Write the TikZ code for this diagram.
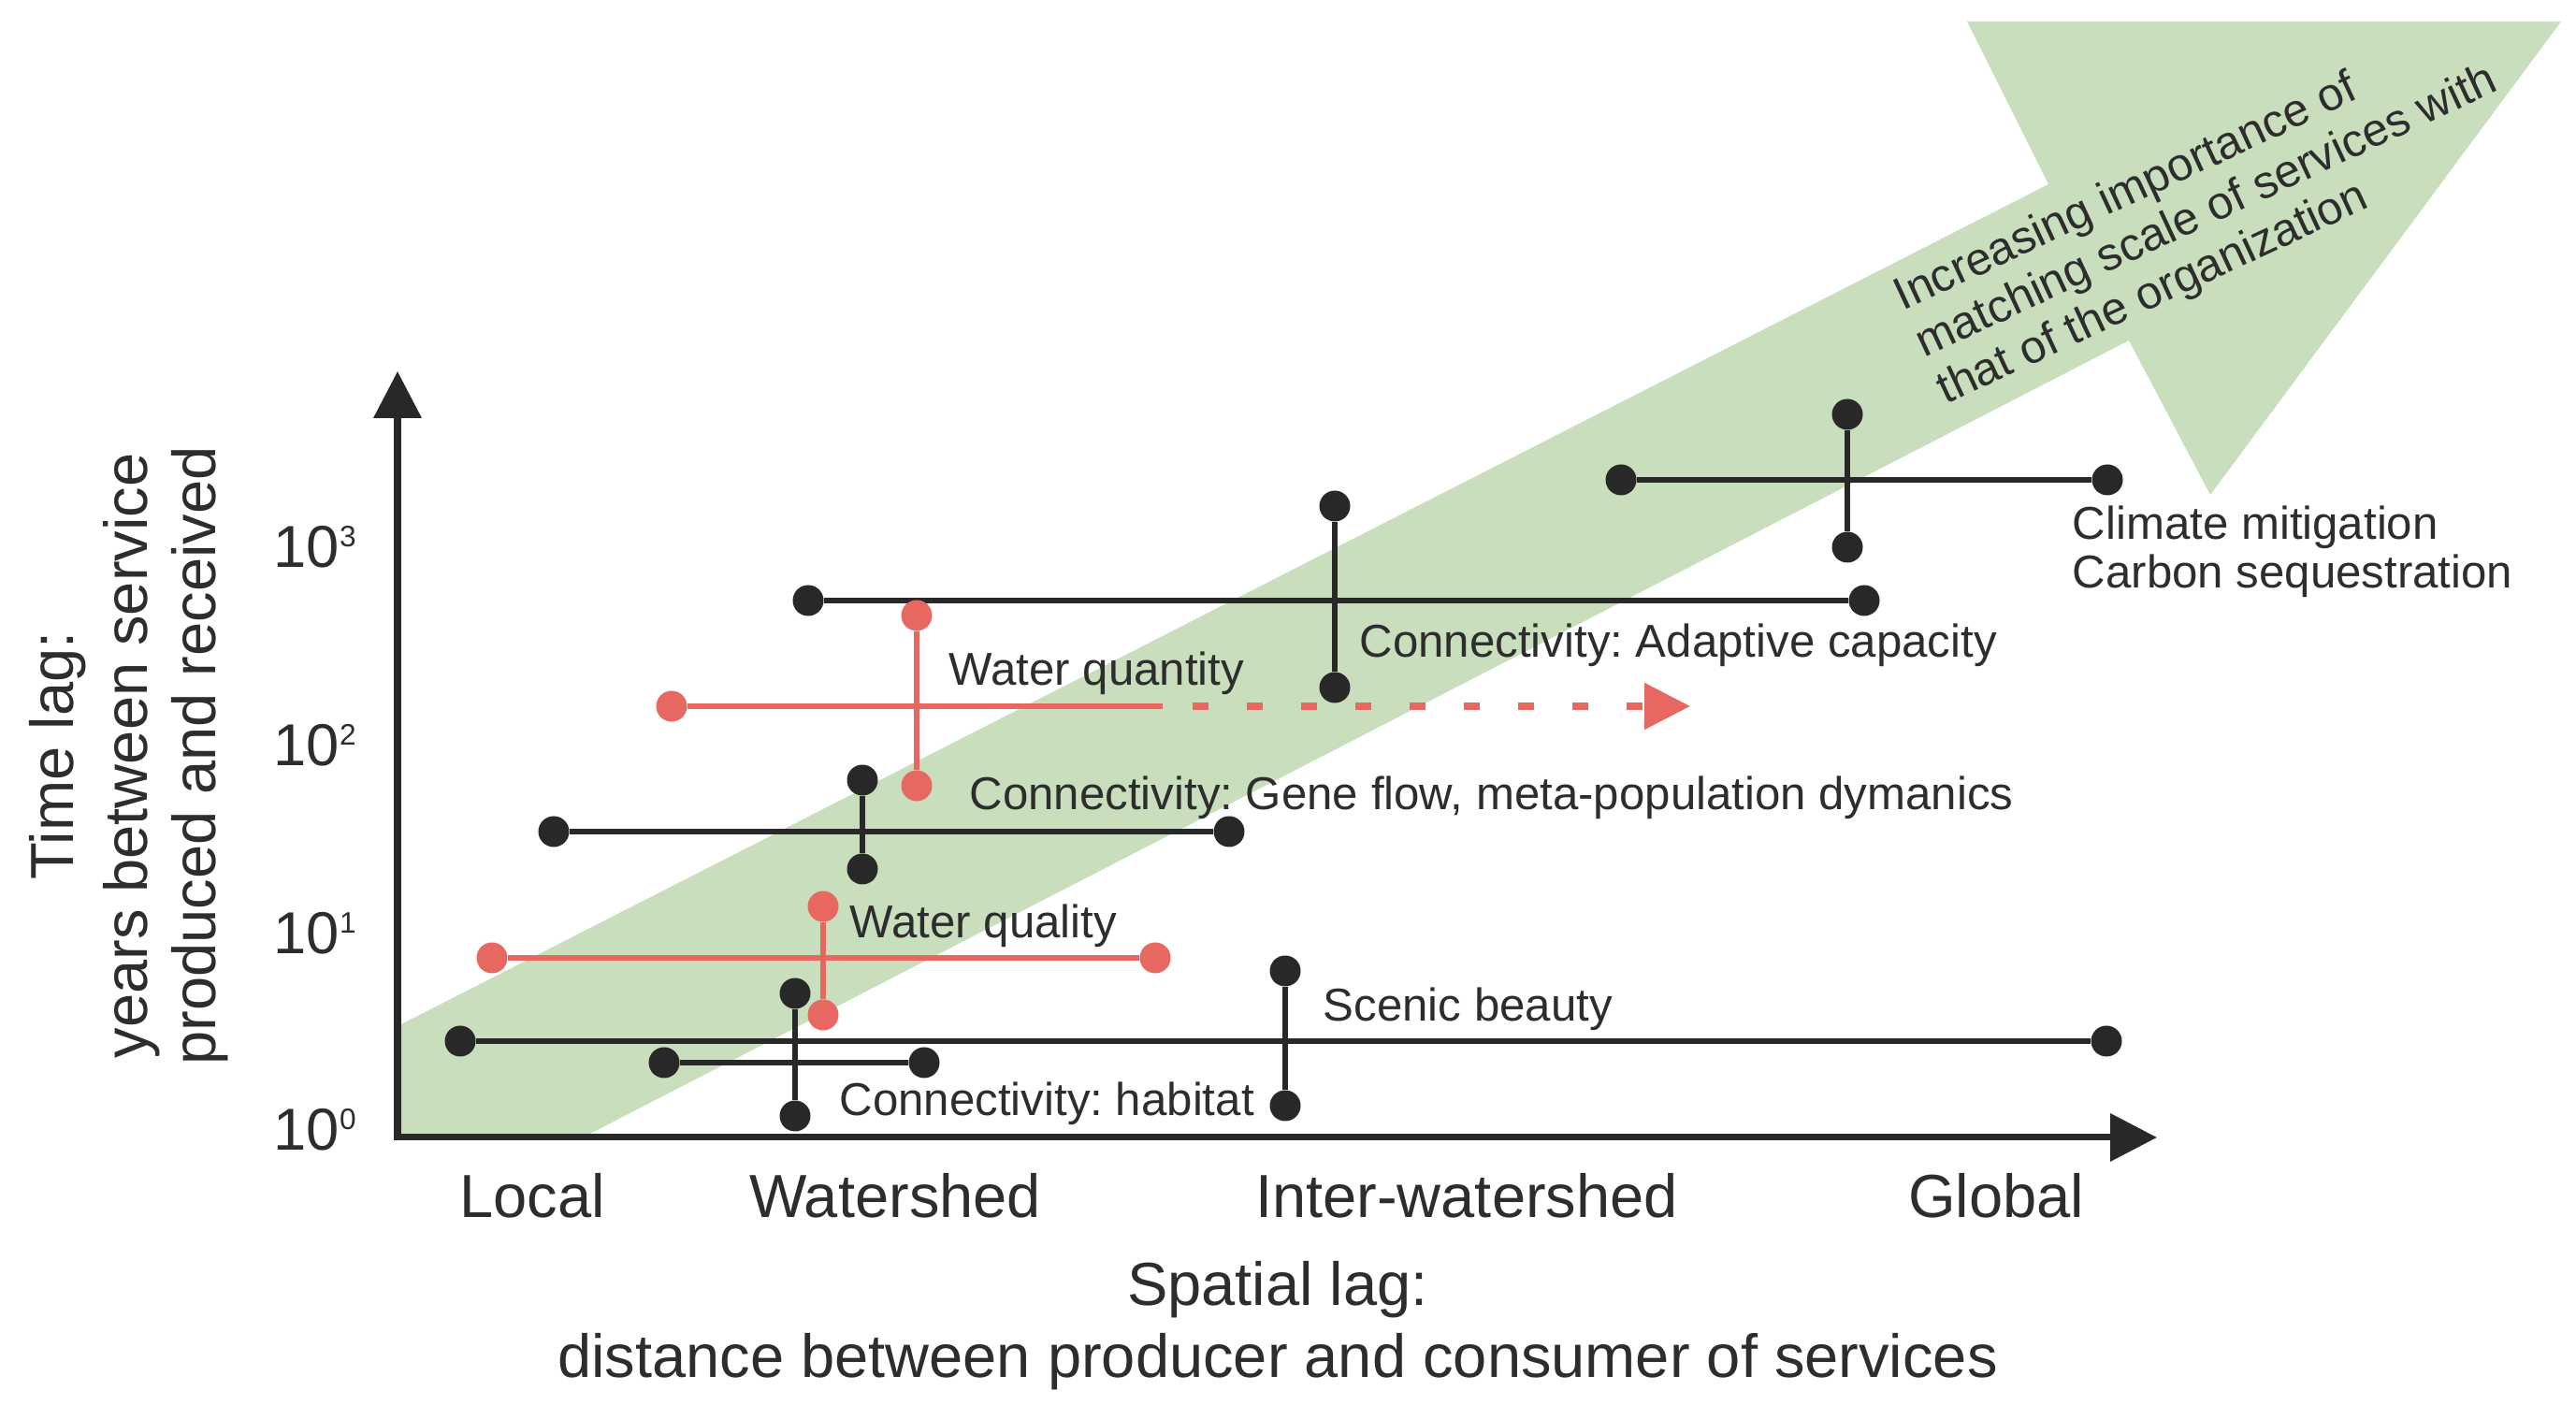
\documentclass[tikz,border=0pt]{standalone}
\usepackage{fontspec}
\setmainfont{Liberation Sans}
\usetikzlibrary{arrows.meta}
\definecolor{bandgreen}{RGB}{200,222,188}
\definecolor{linegray}{RGB}{40,40,40}
\definecolor{lagred}{RGB}{231,104,96}
\definecolor{txtgray}{RGB}{45,45,45}
\newcommand{\tenpow}[1]{10\raisebox{6.5pt}{\fontsize{9}{9}\selectfont #1}}
\frenchspacing

\begin{document}
\begin{tikzpicture}[
    dot/.style={circle,fill=linegray,inner sep=0pt,minimum size=0.33cm},
    rdot/.style={circle,fill=lagred,inner sep=0pt,minimum size=0.33cm},
    hbar/.style={draw=linegray,line width=1.9pt},
    vbar/.style={draw=linegray,line width=1.6pt},
    rhbar/.style={draw=lagred,line width=1.9pt},
    rvbar/.style={draw=lagred,line width=1.6pt},
    lbl/.style={anchor=base west,inner sep=0pt,text=txtgray,font=\fontsize{14}{16}\selectfont},
    axlbl/.style={anchor=base,inner sep=0pt,text=txtgray,font=\fontsize{18.5}{22}\selectfont},
    tick/.style={anchor=base west,inner sep=0pt,text=txtgray,font=\fontsize{18}{20}\selectfont}
  ]
  \useasboundingbox (0,0) rectangle (27.54,15.02);
  %% green band and arrow head
  \fill[bandgreen] (4.25,4.05) -- (21.90,13.05) -- (21.03,14.79) -- (27.38,14.79)
    -- (23.63,9.73) -- (22.76,11.38) -- (6.23,2.86) -- (4.25,2.86) -- cycle;
  \node[lbl,rotate=25] (inc1) at (20.34,11.69) {Increasing importance of};
  \node[lbl,rotate=25] (inc2) at (20.57,11.19) {matching scale of services with};
  \node[lbl,rotate=25] (inc3) at (20.80,10.69) {that of the organization};
  %% axes
  \coordinate (orig) at (4.25,2.86);
  \coordinate (ytop) at (4.25,11.05);
  \coordinate (xend) at (23.06,2.86);
  \draw[line width=2pt,linegray,{Triangle[length=0.5cm,width=0.5cm]}-{Triangle[length=0.5cm,width=0.5cm]}]
    (ytop) -- (orig) -- (xend);
  \node[tick] (t3) at (2.92,8.95) {\tenpow{3}};
  \node[tick] (t2) at (2.92,6.83) {\tenpow{2}};
  \node[tick] (t1) at (2.92,4.82) {\tenpow{1}};
  \node[tick] (t0) at (2.92,2.72) {\tenpow{0}};
  \node[axlbl] (loc) at (5.69,2.00) {Local};
  \node[axlbl] (wsh) at (9.57,2.00) {Watershed};
  \node[axlbl] (iws) at (15.68,2.00) {Inter-watershed};
  \node[axlbl] (glb) at (21.34,2.00) {Global};
  \node[axlbl] (sl1) at (13.66,1.06) {Spatial lag:};
  \node[axlbl] (sl2) at (13.66,0.29) {distance between producer and consumer of services};
  \node[axlbl,rotate=90] (tl1) at (0.78,6.94) {Time lag:};
  \node[axlbl,rotate=90] (tl2) at (1.57,6.94) {years between service};
  \node[axlbl,rotate=90] (tl3) at (2.30,6.94) {produced and received};
  %% climate mitigation
  \node[dot] (cm-l) at (17.33,9.89) {};
  \node[dot] (cm-r) at (22.53,9.89) {};
  \node[dot] (cm-t) at (19.75,10.59) {};
  \node[dot] (cm-b) at (19.75,9.17) {};
  \draw[hbar] (cm-l) -- (cm-r);
  \draw[vbar] (cm-t) -- (cm-b);
  \node[lbl] (cm-txt1) at (22.15,9.25) {Climate mitigation};
  \node[lbl] (cm-txt2) at (22.15,8.73) {Carbon sequestration};
  %% adaptive capacity
  \node[dot] (ad-l) at (8.64,8.60) {};
  \node[dot] (ad-r) at (19.93,8.60) {};
  \node[dot] (ad-t) at (14.27,9.61) {};
  \node[dot] (ad-b) at (14.27,7.67) {};
  \draw[hbar] (ad-l) -- (ad-r);
  \draw[vbar] (ad-t) -- (ad-b);
  \node[lbl] (ad-txt) at (14.53,7.99) {Connectivity: Adaptive capacity};
  %% water quantity
  \node[rdot] (qn-l) at (7.18,7.47) {};
  \coordinate (qn-end) at (12.43,7.47);
  \coordinate (qn-dash) at (12.75,7.47);
  \coordinate (qn-tip) at (18.07,7.47);
  \node[rdot] (qn-t) at (9.80,8.44) {};
  \node[rdot] (qn-b) at (9.80,6.62) {};
  \draw[rhbar] (qn-l) -- (qn-end);
  \draw[lagred,line width=2.4pt,dash pattern=on 0.17cm off 0.41cm,-{Triangle[length=0.49cm,width=0.48cm]}]
    (qn-dash) -- (qn-tip);
  \draw[rvbar] (qn-t) -- (qn-b);
  \node[lbl] (qn-txt) at (10.14,7.69) {Water quantity};
  %% gene flow
  \node[dot] (gf-l) at (5.92,6.13) {};
  \node[dot] (gf-r) at (13.14,6.13) {};
  \node[dot] (gf-t) at (9.22,6.68) {};
  \node[dot] (gf-b) at (9.22,5.73) {};
  \draw[hbar] (gf-l) -- (gf-r);
  \draw[vbar] (gf-t) -- (gf-b);
  \node[lbl] (gf-txt) at (10.36,6.36) {Connectivity: Gene flow, meta-population dymanics};
  %% water quality
  \node[rdot] (ql-l) at (5.26,4.78) {};
  \node[rdot] (ql-r) at (12.35,4.78) {};
  \node[rdot] (ql-t) at (8.80,5.33) {};
  \node[rdot] (ql-b) at (8.80,4.17) {};
  \draw[rhbar] (ql-l) -- (ql-r);
  \draw[rvbar] (ql-t) -- (ql-b);
  \node[lbl] (ql-txt) at (9.08,4.99) {Water quality};
  %% scenic beauty
  \node[dot] (sb-l) at (4.92,3.89) {};
  \node[dot] (sb-r) at (22.52,3.89) {};
  \node[dot] (sb-t) at (13.74,4.64) {};
  \node[dot] (sb-b) at (13.74,3.20) {};
  \draw[hbar] (sb-l) -- (sb-r);
  \draw[vbar] (sb-t) -- (sb-b);
  \node[lbl] (sb-txt) at (14.14,4.10) {Scenic beauty};
  %% habitat
  \node[dot] (hb-l) at (7.10,3.66) {};
  \node[dot] (hb-r) at (9.88,3.66) {};
  \node[dot] (hb-t) at (8.50,4.40) {};
  \node[dot] (hb-b) at (8.50,3.09) {};
  \draw[hbar] (hb-l) -- (hb-r);
  \draw[vbar] (hb-t) -- (hb-b);
  \node[lbl] (hb-txt) at (8.97,3.09) {Connectivity: habitat};
\end{tikzpicture}
\end{document}
